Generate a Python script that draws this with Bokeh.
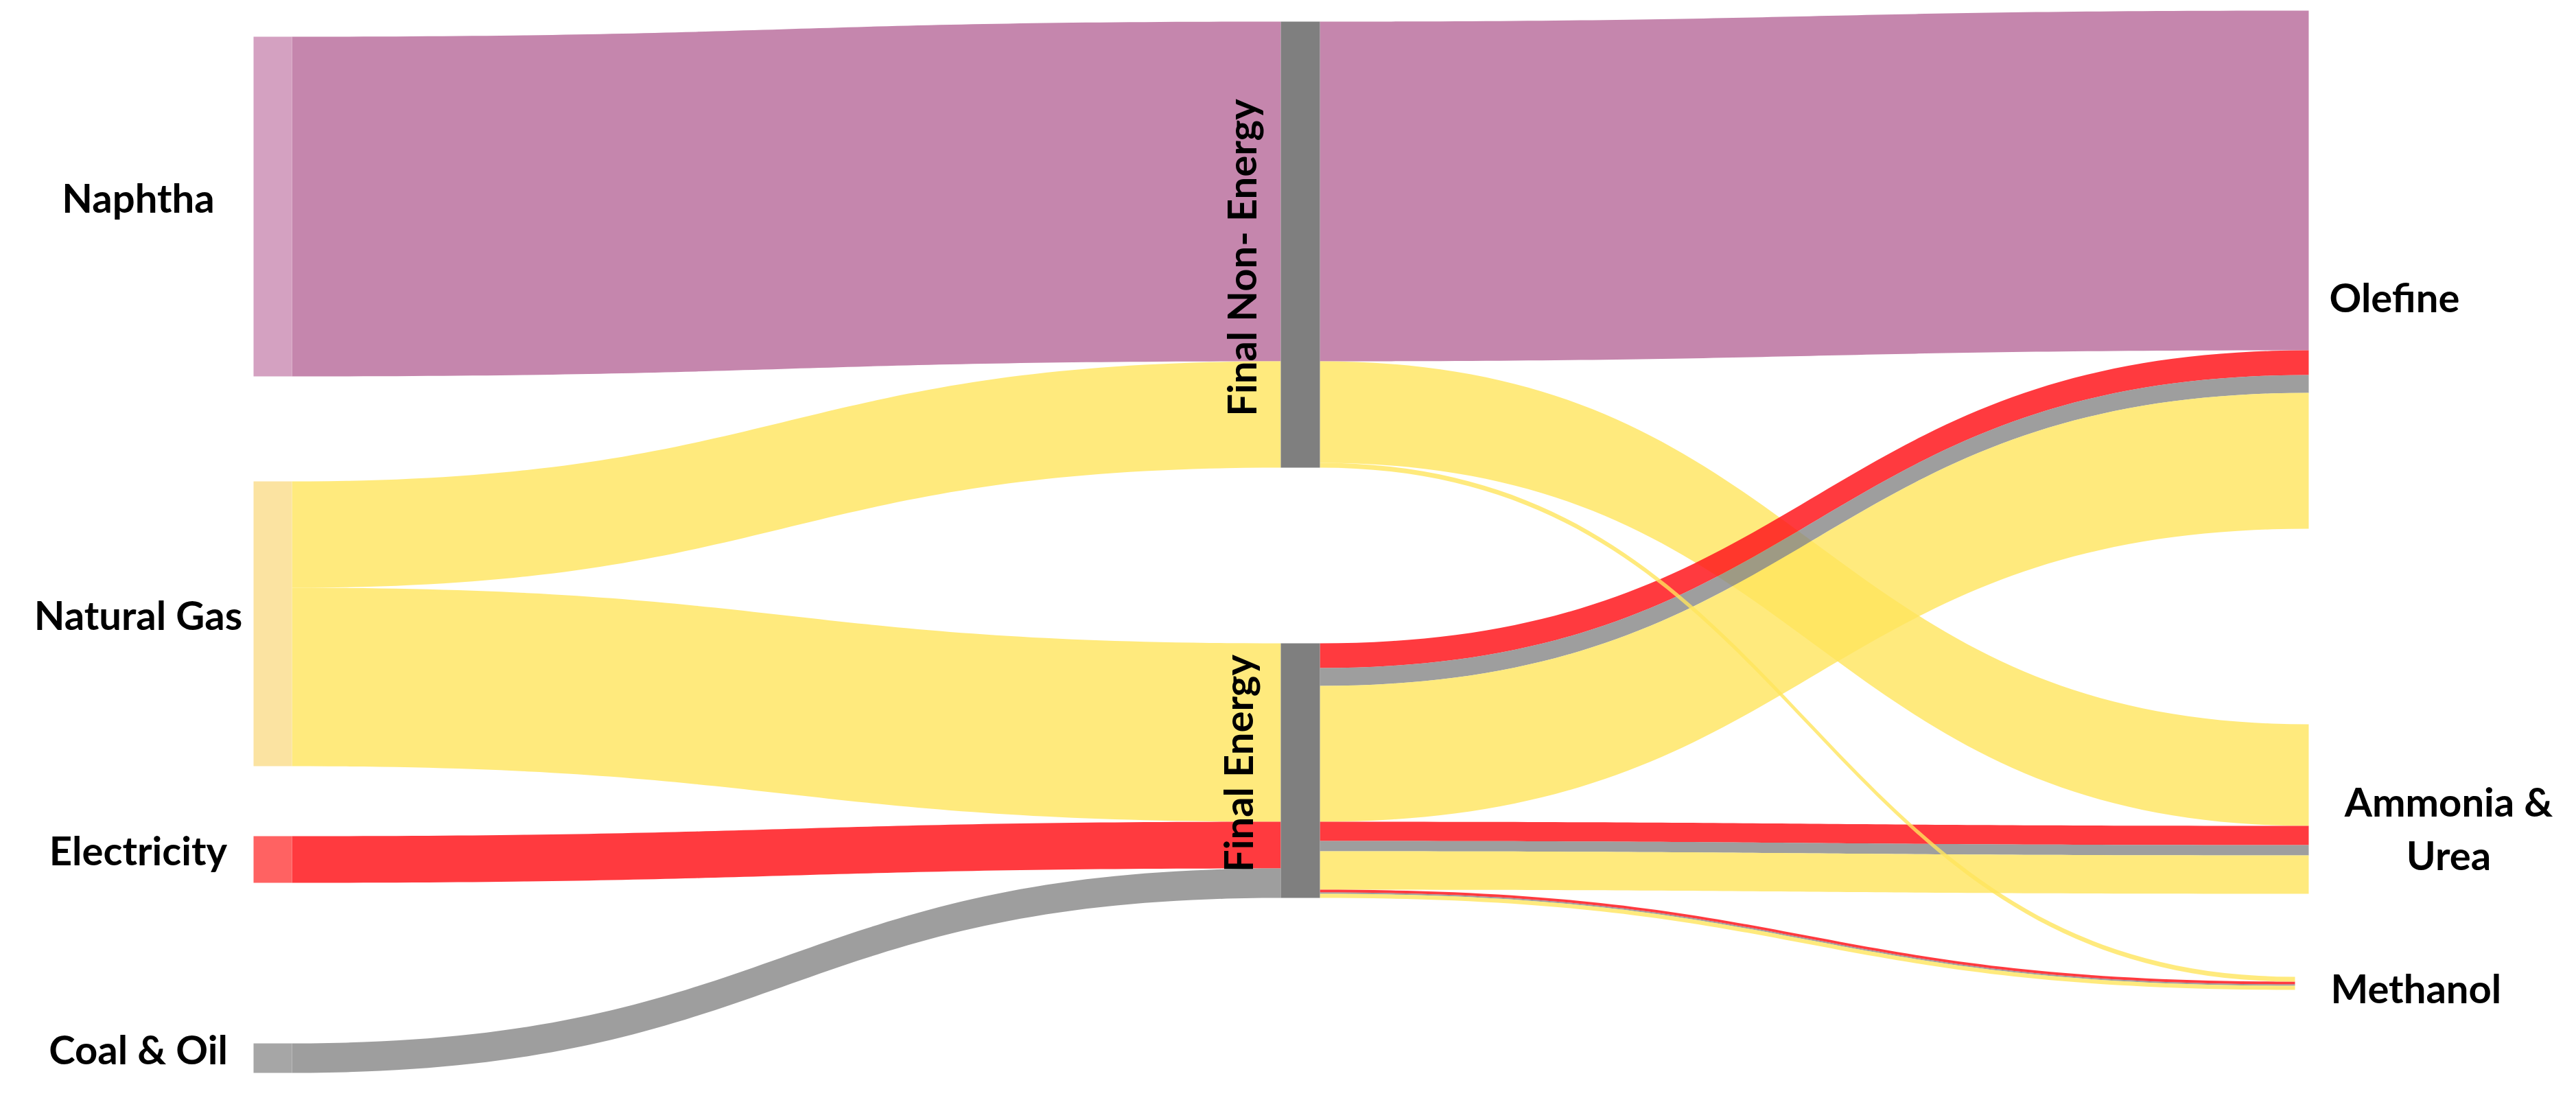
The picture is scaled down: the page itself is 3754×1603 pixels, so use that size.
import numpy as np
from bokeh.plotting import figure
from bokeh.models import Range1d, ColumnDataSource
from bokeh.embed import file_html
from bokeh.resources import INLINE
from bokeh.core.properties import value

# ---------------- data: energy pathways (fuel -> carrier -> product) ----------------
fuel = ["Naphtha", "Natural Gas", "Electricity", "Coal & Oil", "Natural Gas",
        "Electricity", "Coal & Oil", "Natural Gas",
        "Electricity", "Coal & Oil", "Natural Gas", "Natural Gas"]
carrier = ["Final Non- Energy", "Final Non- Energy", "Final Energy", "Final Energy", "Final Energy",
           "Final Energy", "Final Energy", "Final Energy",
           "Final Energy", "Final Energy", "Final Energy", "Final Non- Energy"]
product = ["Olefine", "Ammonia & Urea", "Olefine", "Olefine", "Olefine",
           "Ammonia & Urea", "Ammonia & Urea", "Ammonia & Urea",
           "Methanol", "Methanol", "Methanol", "Methanol"]
amount = [49.5, 14.8, 3.6, 2.6, 19.8,
          2.8, 1.5, 5.6,
          0.4, 0.2, 0.6, 0.7]

fuels = ["Naphtha", "Natural Gas", "Electricity", "Coal & Oil"]
carriers = ["Final Non- Energy", "Final Energy"]
products = ["Olefine", "Ammonia & Urea", "Methanol"]
product_labels = ["Olefine", "Ammonia &\nUrea", "Methanol"]

# ---------------- styling / layout ----------------
PX = 10.0  # pixels per unit
stack_fuel = ["Naphtha", "Electricity", "Coal & Oil", "Natural Gas"]
link_color = {"Naphtha": "#C586AD", "Natural Gas": "#FFE55C",
              "Electricity": "#FF181D", "Coal & Oil": "#868686"}
link_alpha = {"Naphtha": 1.0, "Natural Gas": 0.8, "Electricity": 0.85, "Coal & Oil": 0.8}
node_color = {"Naphtha": "#D4A1C1", "Natural Gas": "#FBE3A1",
              "Electricity": "#FF6262", "Coal & Oil": "#A6A6A6"}
mid_color = "#7F7F7F"

node_top = {"Naphtha": 53, "Natural Gas": 701, "Electricity": 1218, "Coal & Oil": 1520,
            "Final Non- Energy": 31, "Final Energy": 937,
            "Olefine": 15, "Ammonia & Urea": 1055, "Methanol": 1423}
L_X0, L_X1 = 369, 425
M_X0, M_X1 = 1866, 1923
R_X = {"Olefine": 3364, "Ammonia & Urea": 3364, "Methanol": 3344}

FONT = value("Lato")
FSIZE = "58px"

n = len(amount)
val = np.array(amount)

# ---------------- compute stage-1 links (fuel -> carrier) ----------------
s1 = []
for f in fuels:
    for c in carriers:
        v = sum(val[i] for i in range(n) if fuel[i] == f and carrier[i] == c)
        if v > 0:
            s1.append((f, c, v))

out_off = {f: 0.0 for f in fuels}
src_y = {}
for f in fuels:
    for (ff, c, v) in sorted([l for l in s1 if l[0] == f], key=lambda l: carriers.index(l[1])):
        src_y[(ff, c)] = node_top[ff] + out_off[ff]
        out_off[ff] += v * PX
in_off = {c: 0.0 for c in carriers}
tgt_y = {}
for c in carriers:
    for (f, cc, v) in sorted([l for l in s1 if l[1] == c], key=lambda l: fuels.index(l[0])):
        tgt_y[(f, cc)] = node_top[cc] + in_off[cc]
        in_off[cc] += v * PX

mid_out = {c: 0.0 for c in carriers}
s2_src = {}
for c in carriers:
    idx = sorted([i for i in range(n) if carrier[i] == c],
                 key=lambda i: (products.index(product[i]), stack_fuel.index(fuel[i])))
    for i in idx:
        s2_src[i] = node_top[c] + mid_out[c]
        mid_out[c] += val[i] * PX
r_in = {p: 0.0 for p in products}
s2_tgt = {}
for p in products:
    idx = sorted([i for i in range(n) if product[i] == p],
                 key=lambda i: (carriers.index(carrier[i]), stack_fuel.index(fuel[i])))
    for i in idx:
        s2_tgt[i] = node_top[p] + r_in[p]
        r_in[p] += val[i] * PX


def ribbon(x0, x1, y0, y1, h, k=80):
    t = np.linspace(0, 1, k)
    xm = (x0 + x1) / 2.0
    bx = (1 - t) ** 3 * x0 + 3 * (1 - t) ** 2 * t * xm + 3 * (1 - t) * t ** 2 * xm + t ** 3 * x1
    by = (1 - t) ** 3 * y0 + 3 * (1 - t) ** 2 * t * y0 + 3 * (1 - t) * t ** 2 * y1 + t ** 3 * y1
    xs = np.concatenate([bx, bx[::-1]])
    ys = np.concatenate([by, (by + h)[::-1]])
    return list(xs), list(-ys)


xs, ys, fc, fa = [], [], [], []
for (f, c, v) in s1:
    a, b = ribbon(L_X1, M_X0, src_y[(f, c)], tgt_y[(f, c)], v * PX)
    xs.append(a); ys.append(b); fc.append(link_color[f]); fa.append(link_alpha[f])
for i in range(n):
    a, b = ribbon(M_X1, R_X[product[i]], s2_src[i], s2_tgt[i], val[i] * PX)
    xs.append(a); ys.append(b); fc.append(link_color[fuel[i]]); fa.append(link_alpha[fuel[i]])

W, H = 3738, 1587
p = figure(width=W, height=H, output_backend="svg", toolbar_location=None,
           x_range=Range1d(0, W), y_range=Range1d(-H, 0),
           min_border=0, min_border_left=0, min_border_right=0,
           min_border_top=0, min_border_bottom=0)
p.axis.visible = False
p.grid.visible = False
p.outline_line_color = None
p.background_fill_color = "white"

p.patches(xs="xs", ys="ys", fill_color="fc", fill_alpha="fa", line_color=None,
          source=ColumnDataSource(dict(xs=xs, ys=ys, fc=fc, fa=fa)))

lh = {f: sum(l[2] for l in s1 if l[0] == f) * PX for f in fuels}
p.quad(left=[L_X0] * 4, right=[L_X1] * 4,
       top=[-node_top[f] for f in fuels],
       bottom=[-(node_top[f] + lh[f]) for f in fuels],
       fill_color=[node_color[f] for f in fuels], line_color=None)
mh = {c: sum(val[i] for i in range(n) if carrier[i] == c) * PX for c in carriers}
p.quad(left=[M_X0] * 2, right=[M_X1] * 2,
       top=[-node_top[c] for c in carriers],
       bottom=[-(node_top[c] + mh[c]) for c in carriers],
       fill_color=mid_color, line_color=None)

lab_left_y = [node_top[f] + lh[f] / 2 - 14 for f in fuels]
p.text(x=[201] * 4, y=[-y for y in lab_left_y], text=fuels,
       text_font=FONT, text_font_style="bold", text_font_size=FSIZE,
       text_align="center", text_baseline="middle", text_color="#000000")

p.text(x=[1808, 1803], y=[-375, -1112], text=carriers, angle=np.pi / 2,
       text_font=FONT, text_font_style="bold", text_font_size=FSIZE,
       text_align="center", text_baseline="middle", text_color="#000000")

p.text(x=[3394, 3568, 3396], y=[-432, -1206, -1439], text=product_labels,
       text_font=FONT, text_font_style="bold", text_font_size=FSIZE,
       text_align=["left", "center", "left"], text_baseline="middle",
       text_line_height=1.12, text_color="#000000")

open("out.html", "w").write(file_html(p, INLINE))
